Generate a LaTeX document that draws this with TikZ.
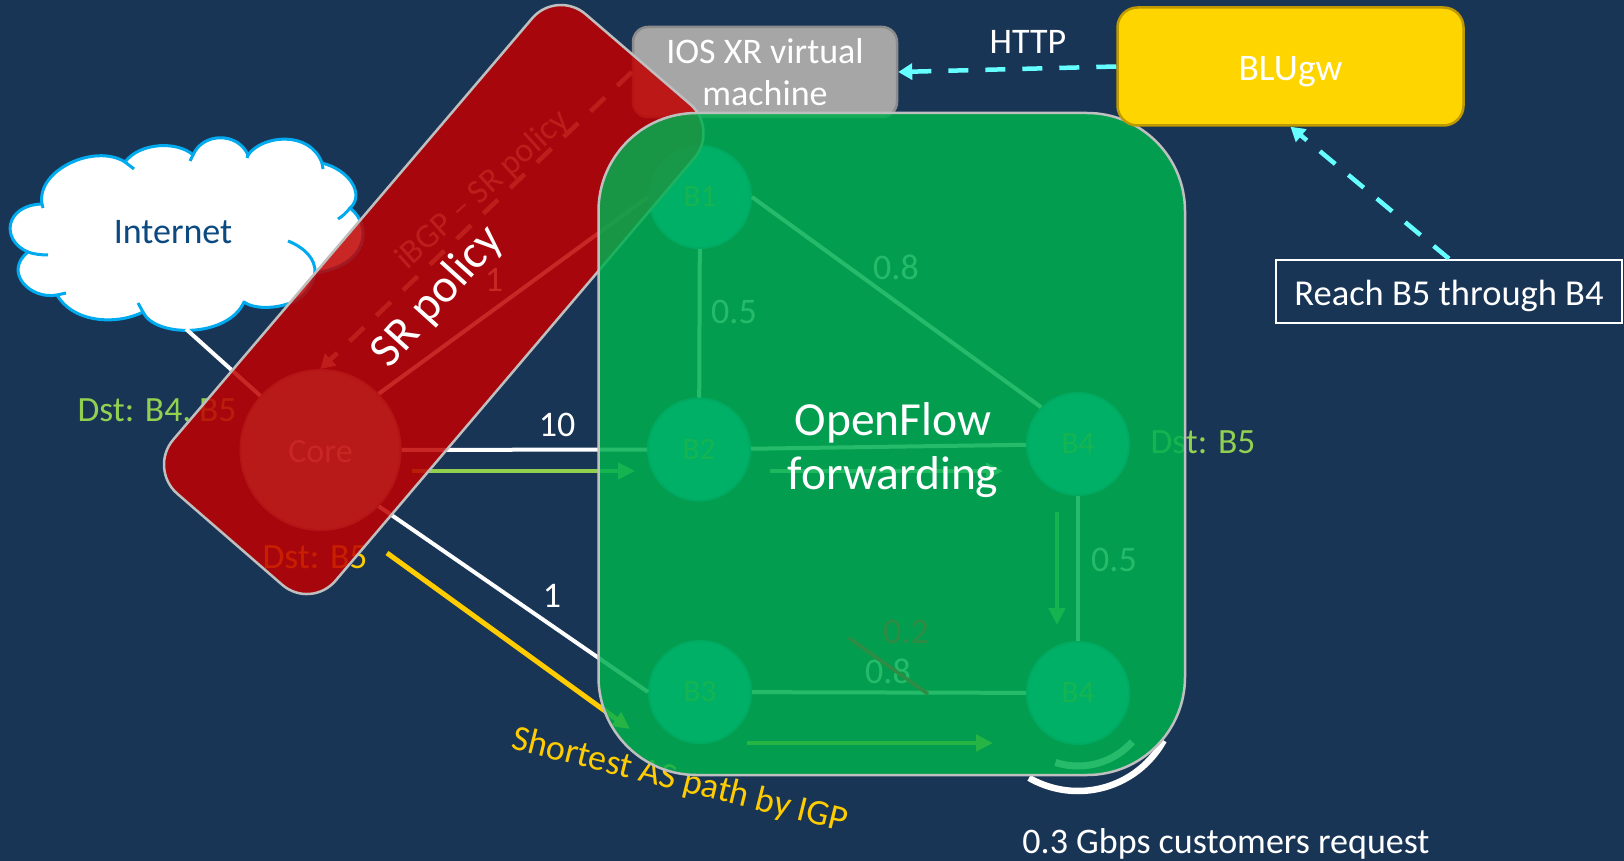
\documentclass[tikz,border=0pt]{standalone}
\usepackage{fontspec}
\setmainfont{Carlito}
\usetikzlibrary{arrows.meta}
\definecolor{bgc}{HTML}{193556}
\definecolor{ofgreen}{HTML}{00B050}
\definecolor{srred}{HTML}{C00000}
\definecolor{lgreen}{HTML}{92D050}
\definecolor{yel}{HTML}{FFCC00}
\definecolor{cyn}{HTML}{66FFFF}
\definecolor{cblue}{HTML}{00AAEF}
\definecolor{bluec}{HTML}{00B0F0}
\definecolor{corec}{RGB}{145,173,173}
\definecolor{cloudtxt}{HTML}{0B4A80}
\definecolor{struck}{RGB}{48,140,68}
\definecolor{faint}{RGB}{190,190,190}
\newcommand{\fs}[1]{\fontsize{#1}{#1}\selectfont}
\newcommand{\dropped}[2]{\raisebox{-#1pt}[0pt][0pt]{#2}}
\tikzset{
  router/.style={circle,minimum size=102pt,inner sep=0pt,fill=#1,draw=#1!82!black,line width=2pt,text=lgreen},
  link/.style={white,line width=4pt},
  edgelab/.style={text=white,inner sep=0pt,font=\fs{36}},
  lab/.style={inner sep=0pt,font=\fs{36}},
  flow/.style={line width=4.5pt,-{Triangle[length=17pt,width=16pt]}},
  ctrl/.style={cyn,line width=4.5pt,dash pattern=on 20pt off 17pt,-{Triangle[length=14pt,width=16pt]}},
  overlay/.style={draw=black!25,line width=2.5pt,fill opacity=.85}
}
\begin{document}
\begin{tikzpicture}[x=1pt,y=-1pt]
\useasboundingbox (0,0) rectangle (1624,861);
\fill[bgc] (0,0) rectangle (1624,861);
% routers
\node[router=corec,minimum size=160pt,font=\fs{34},text=white] (core) at (320.5,450) {\dropped{12.5}{Core}};
\node[router=bluec,font=\fs{31}] (b1) at (700,197) {B1};
\node[router=bluec,font=\fs{31}] (b2) at (699,449.5) {B2};
\node[router=bluec,font=\fs{31}] (b3) at (700,692) {B3};
\node[router=bluec,font=\fs{31}] (b4a) at (1078,444) {B4};
\node[router=bluec,font=\fs{31}] (b4b) at (1078,693) {B4};
% cloud
\path[fill=white,draw=cblue,line width=3pt,line join=round]
 (42,204) .. controls (36,170) and (95,143) .. (125,162)
 .. controls (140,142) and (178,141) .. (193,155)
 .. controls (203,132) and (238,132) .. (248,155)
 .. controls (262,135) and (310,130) .. (322,163)
 .. controls (350,170) and (365,195) .. (350,208)
 .. controls (372,225) and (370,265) .. (315,273)
 .. controls (313,285) and (305,295) .. (297,300)
 .. controls (280,309) and (255,310) .. (244,302)
 .. controls (228,338) and (155,338) .. (143,312)
 .. controls (120,324) and (75,325) .. (57,295)
 .. controls (30,300) and (3,272) .. (28,252)
 .. controls (0,240) and (5,205) .. (42,204) -- cycle;
\draw[cblue,line width=3pt]
 (42,204) -- (43,208) (125,162) -- (134,169) (193,155) -- (190,161) (248,155) -- (247,158) (322,163) -- (323,169)
 (350,208) .. controls (347,212) and (343,216) .. (338,219)
 (288,241) .. controls (303,247) and (316,258) .. (315,273)
 (143,312) -- (138,303) (57,295) -- (66,293)
 (28,252) .. controls (33,254) and (41,255) .. (48,255);
\node[lab,text=cloudtxt] (internet) at (173,232) {Internet};
\coordinate (cloudfoot) at (186,329);
% links
\draw[link] (cloudfoot) -- (core.138);
\draw[link] (core.44.5) -- (b1.180);
\draw[link] (core) -- (b2);
\draw[link] (core.-44.5) -- (b3.180);
\draw[link] (b1) -- (b2);
\draw[link] (b1.0) -- (b4a.135);
\draw[link] (b2) -- (b4a);
\draw[link] (b4a) -- (b4b);
\draw[link] (b3) -- (b4b);
% capacity arcs
\draw[white,line width=7pt] plot[domain=42:108,samples=40,variable=\t] ({1078+73*cos(\t)},{693+73*sin(\t)});
\draw[white,line width=6.5pt] plot[domain=29:120,samples=40,variable=\t] ({1078+98*cos(\t)},{693+98*sin(\t)});
% edge labels
\node[edgelab] (l1) at (734,312) {0.5};
\node[edgelab] (l2) at (896,267) {0.8};
\node[edgelab] (l3) at (1114,560) {0.5};
\node[edgelab] (l4) at (888,671) {0.8};
\node[edgelab] (l6) at (557,425) {10};
\node[edgelab] (l7) at (552,596) {1};
\node[edgelab] (l8) at (494,280) {1};
% dst labels
\node[lab,text=lgreen,font=\fs{35.5}] (d1) at (157,412.5) {Dst: B4, B5};
\node[lab,text=lgreen,font=\fs{35.5}] (d2) at (1203,442) {Dst: B5};
\node[lab,text=yel,font=\fs{35.5}] (d3) at (315,557) {Dst: B5};
% flows
\coordinate (f1a) at (412,471); \coordinate (f1b) at (635,471);
\coordinate (f2a) at (770,471); \coordinate (f2b) at (1003,471);
\coordinate (f3a) at (1057,512); \coordinate (f3b) at (1057,625);
\coordinate (f4a) at (747,743); \coordinate (f4b) at (993,743);
\coordinate (f5a) at (387,553); \coordinate (f5b) at (630,729);
\draw[flow,lgreen] (f1a) -- (f1b);
\draw[flow,lgreen!50!white] (f2a) -- (f2b);
\draw[flow,lgreen] (f3a) -- (f3b);
\draw[flow,yel] (f4a) -- (f4b);
\draw[flow,yel,line width=5pt] (f5a) -- (f5b);
\node[lab,text=yel,font=\fs{36},rotate=-14] (sp) at (680,781) {Shortest AS path by IGP};
% IOS box
\node[draw=black!45,line width=2.5pt,fill=black!35,rounded corners=15pt,minimum width=264pt,minimum height=90pt,inner sep=0pt,text=white,align=center,font=\fs{36}] (ios) at (765,72) {IOS XR virtual\\[6pt]machine};
\draw[ctrl,faint] (ios.west) -- (core.north);
\node[lab,text=faint,font=\fs{34},rotate=42] (ibgp) at (483,190) {iBGP – SR policy};
% overlays
\draw[overlay,fill=srred,rounded corners=38pt] (556.8,-10.6) -- (719,129) -- (310.9,609.7) -- (148.5,468.7) -- cycle;
\draw[overlay,fill=ofgreen,rounded corners=98pt] (598.5,113) rectangle (1185,775);
% struck-out capacity, visible through the green
\node[edgelab,text=struck] (l5) at (906,632) {0.2};
\draw[struck,line width=3.5pt] (849,638) -- (928,694);
% top layer
\node[draw=yel!75!black,line width=2.5pt,fill={rgb,255:red,255;green,213;blue,0},rounded corners=20pt,minimum width=346pt,minimum height=118pt,inner sep=0pt,text=white,font=\fs{37.5}] (blu) at (1290.5,66.5) {\dropped{14}{BLUgw}};
\node[draw=white,line width=2.5pt,minimum width=346pt,minimum height=63pt,inner sep=0pt,text=white,font=\fs{36.5}] (note) at (1449,291.5) {\dropped{14}{Reach B5 through B4}};
\draw[ctrl] (blu.west) -- (ios.east);
\draw[ctrl] (note.north) -- (blu.south);
\node[lab,text=white] (http) at (1028,42) {HTTP};
\node[text=white,inner sep=0pt,align=center,font=\fs{47.5}] (of) at (893,450) {OpenFlow\\[7pt]forwarding};
\node[text=white,inner sep=0pt,font=\fs{47.5},rotate=48] (sr) at (438,297) {SR policy};
\node[lab,font=\fs{36}] (req) [text=white] at (1226,844) {0.3 Gbps customers request};
\end{tikzpicture}
\end{document}
